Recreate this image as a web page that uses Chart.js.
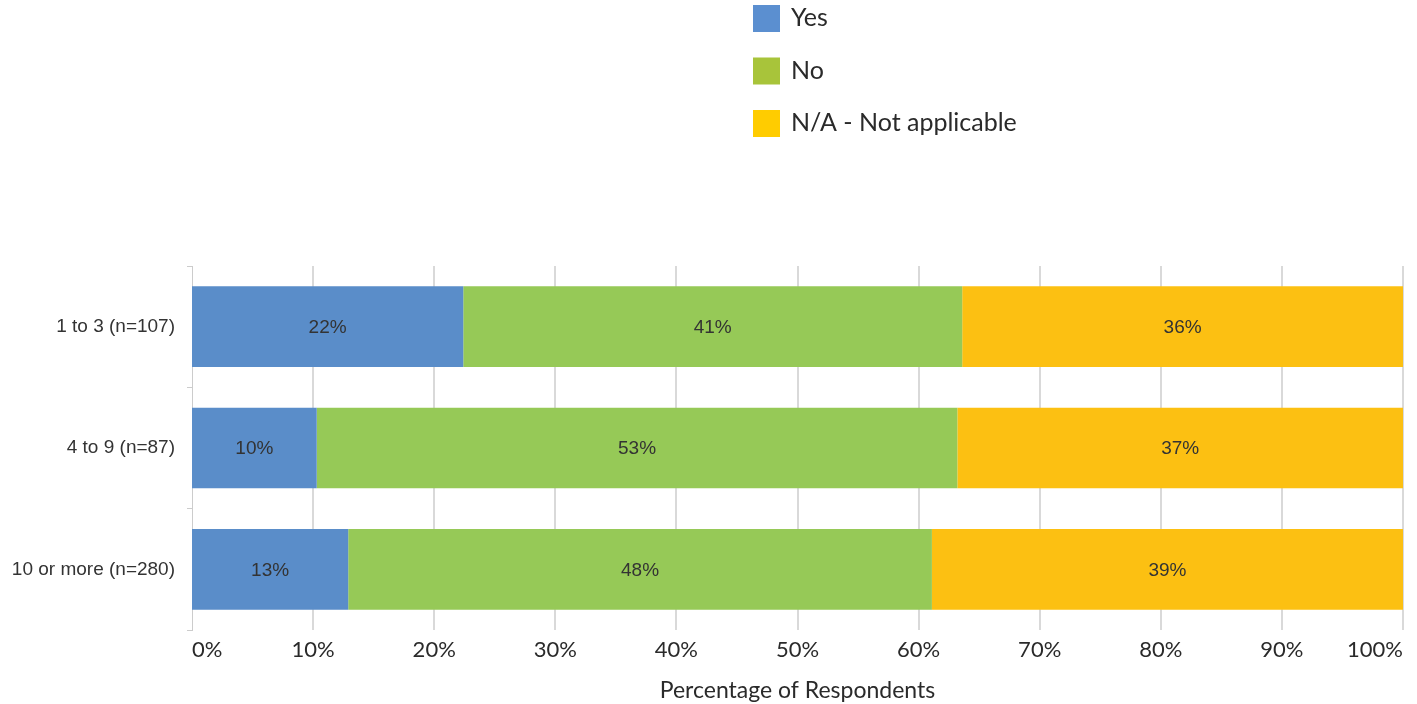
<!DOCTYPE html>
<html>
<head>
<meta charset="utf-8">
<script src="https://cdn.jsdelivr.net/npm/chart.js@4.4.0/dist/chart.umd.min.js"></script>
<style>
  html, body { margin: 0; padding: 0; background: #fff; }
  #wrap { width: 1417px; height: 704px; position: relative; }
</style>
</head>
<body>
<div id="wrap"><canvas id="chart"></canvas></div>
<script>
const categories = ['1 to 3 (n=107)', '4 to 9 (n=87)', '10 or more (n=280)'];
const yesValues = [22.4, 10.3, 12.9];
const noValues = [41.2, 52.9, 48.2];
const naValues = [36.4, 36.8, 38.9];
const xTicks = ['0%', '10%', '20%', '30%', '40%', '50%', '60%', '70%', '80%', '90%', '100%'];

const seriesNames = ['Yes', 'No', 'N/A - Not applicable'];
const barColors = ['#5a8dc9', '#96c957', '#fcc012'];
const legendColors = ['#5b8fd0', '#a8c43a', '#ffcc00'];

const axisFont = "'Lato', 'Open Sans', sans-serif";

// draws the percentage inside each bar segment
const barLabels = {
    id: 'barLabels',
    afterDatasetsDraw(chart) {
        const ctx = chart.ctx;
        ctx.save();
        ctx.font = "19px 'Liberation Sans', Arial, sans-serif";
        ctx.fillStyle = '#333';
        ctx.textAlign = 'center';
        ctx.textBaseline = 'middle';
        chart.data.datasets.forEach((ds, i) => {
            chart.getDatasetMeta(i).data.forEach((bar, j) => {
                const mid = (bar.x + bar.base) / 2;
                ctx.fillText(Math.round(ds.data[j]) + '%', mid, bar.y + 1);
            });
        });
        ctx.restore();
    }
};

// vertical legend above the plot
const stackLegend = {
    id: 'stackLegend',
    afterDraw(chart) {
        const ctx = chart.ctx;
        ctx.save();
        ctx.font = "25px " + axisFont;
        ctx.textBaseline = 'middle';
        ctx.textAlign = 'left';
        seriesNames.forEach((name, i) => {
            const top = 5 + i * 52.5;
            ctx.fillStyle = legendColors[i];
            ctx.fillRect(753, top, 27, 27);
            ctx.fillStyle = '#2a2a2a';
            ctx.fillText(name, 791, top + 13);
        });
        ctx.restore();
    }
};

new Chart(document.getElementById('chart'), {
    type: 'bar',
    data: {
        labels: categories,
        datasets: [
            { label: seriesNames[0], data: yesValues, backgroundColor: barColors[0] },
            { label: seriesNames[1], data: noValues, backgroundColor: barColors[1] },
            { label: seriesNames[2], data: naValues, backgroundColor: barColors[2] }
        ]
    },
    options: {
        indexAxis: 'y',
        responsive: true,
        maintainAspectRatio: false,
        animation: false,
        layout: { padding: { top: 266, right: 14, left: 0, bottom: 0 } },
        datasets: {
            bar: { barPercentage: 1, categoryPercentage: 0.665, borderWidth: 0 }
        },
        plugins: {
            legend: { display: false },
            tooltip: { enabled: false }
        },
        scales: {
            x: {
                stacked: true,
                min: 0,
                max: 100,
                afterFit: (scale) => {
                    scale.height = 74;
                    scale.paddingLeft = 0;
                    scale.paddingRight = 0;
                },
                ticks: {
                    stepSize: 10,
                    padding: 7,
                    align: 'inner',
                    color: '#2a2a2a',
                    font: { family: axisFont, size: 22 },
                    callback: (v, i) => xTicks[i]
                },
                grid: {
                    color: '#d9d9d9',
                    lineWidth: (c) => c.index === 0 ? 0 : 2,
                    drawTicks: false
                },
                border: { display: false },
                title: {
                    display: true,
                    text: 'Percentage of Respondents',
                    color: '#2a2a2a',
                    font: { family: axisFont, size: 23 },
                    padding: { top: 0, bottom: 0 }
                }
            },
            y: {
                stacked: true,
                afterFit: (scale) => { scale.width = 192; },
                ticks: {
                    color: '#333',
                    padding: 12,
                    font: { family: "'Liberation Sans', Arial, sans-serif", size: 19 }
                },
                grid: {
                    offset: true,
                    drawOnChartArea: false,
                    tickLength: 5,
                    color: '#cccccc'
                },
                border: { color: '#cccccc', width: 1 }
            }
        }
    },
    plugins: [barLabels, stackLegend]
});
</script>
</body>
</html>
